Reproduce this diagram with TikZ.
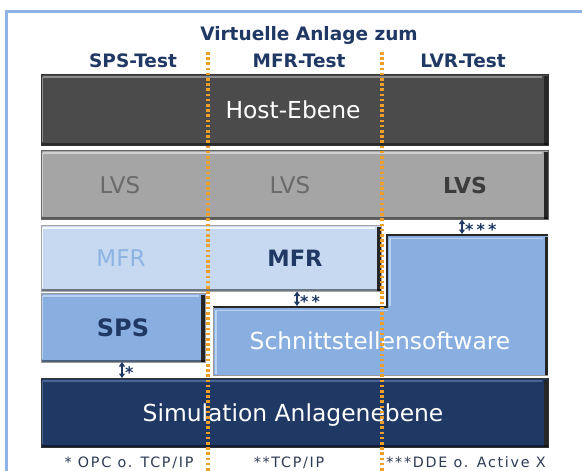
\documentclass[tikz,border=0pt]{standalone}
\usepackage{fontspec}
\setmainfont{DejaVu Sans}
\usetikzlibrary{arrows.meta}
\definecolor{navy}{HTML}{1F3864}
\definecolor{hostc}{HTML}{4B4B4B}
\definecolor{hosthi}{HTML}{8C8C8C}
\definecolor{lvsc}{HTML}{A5A5A5}
\definecolor{lvshi}{HTML}{CFCFCF}
\definecolor{lvstxt}{HTML}{6A6A6A}
\definecolor{lvsbold}{HTML}{3C3C3C}
\definecolor{mfrc}{HTML}{C6D9F1}
\definecolor{mfrhi}{HTML}{F2F7FD}
\definecolor{mfrtxt}{HTML}{8DB3E2}
\definecolor{bluec}{HTML}{88AFE0}
\definecolor{bluehi}{HTML}{B9D2F1}
\definecolor{simc}{HTML}{1F3864}
\definecolor{simhi}{HTML}{4A6594}
\definecolor{framec}{HTML}{8FB4E3}
\definecolor{dotc}{HTML}{F0A02A}
\definecolor{foottxt}{HTML}{2E3B55}
\tikzset{
  barbox/.style n args={3}{draw=#2, line width=0.8pt, fill=#1, inner sep=0pt, outer sep=0pt, anchor=north west,
    path picture={
      \draw[#3, line width=1.6pt] ([xshift=2pt,yshift=-3pt]path picture bounding box.north west) -- ([xshift=-6pt,yshift=-3pt]path picture bounding box.north east);
      \draw[#3, line width=0.8pt] ([xshift=1.5pt,yshift=-3pt]path picture bounding box.north west) -- ([xshift=1.5pt,yshift=3pt]path picture bounding box.south west);
      \fill[black!85] ([xshift=-4pt,yshift=-2pt]path picture bounding box.north east) rectangle (path picture bounding box.south east);
      \fill[black, opacity=.45] ([yshift=2.5pt]path picture bounding box.south west) rectangle (path picture bounding box.south east);
    }},
  lbl/.style={inner sep=0pt, outer sep=0pt, anchor=base},
  bigtxt/.style={lbl, font=\fontsize{23.4}{26}\selectfont},
  ttl/.style={lbl, text=navy, font=\bfseries\fontsize{18.5}{21}\selectfont},
  foot/.style={lbl, text=foottxt, font=\addfontfeatures{LetterSpace=12}\fontsize{14.3}{16}\selectfont},
  stars/.style={inner sep=0pt, outer sep=0pt, anchor=west, text=navy, font=\bfseries\addfontfeatures{LetterSpace=20}\fontsize{16}{18}\selectfont},
  dblarrow/.style={navy, line width=1.6pt, {Triangle[width=6pt,length=4.5pt]}-{Triangle[width=6pt,length=4.5pt]}},
  dotline/.style={dotc, line width=3.2pt, dash pattern=on 2.6pt off 2.6pt},
}
\begin{document}
\begin{tikzpicture}[x=1pt,y=-1pt]
\useasboundingbox (0,0) rectangle (582,471);
\fill[white] (0,0) rectangle (582,471);
% frame
\draw[framec, line width=3pt] (6,471) -- (6,11) -- (582,11);
% titles
\node[ttl] (title) at (309,40) {Virtuelle Anlage zum};
\node[ttl] (tsps) at (133,67) {SPS-Test};
\node[ttl] (tmfr) at (299,67) {MFR-Test};
\node[ttl] (tlvr) at (463,67) {LVR-Test};
% bars
\node[barbox={hostc}{black!80}{hosthi}, minimum width=507pt, minimum height=71pt] (host) at (41,74) {};
\node[barbox={lvsc}{black!60}{lvshi}, minimum width=507pt, minimum height=69pt] (lvs) at (41,150) {};
\node[barbox={mfrc}{black!35}{mfrhi}, minimum width=340pt, minimum height=66pt] (mfr) at (41,225) {};
\node[barbox={bluec}{black!40}{bluehi}, minimum width=164pt, minimum height=69pt] (sps) at (41,293) {};
% Schnittstellensoftware (L-shape)
\fill[bluec] (387,235) -- (548,235) -- (548,375) -- (213,375) -- (213,307) -- (387,307) -- cycle;
\draw[bluehi, line width=1.4pt] (216,374) -- (216,310.5) -- (388,310.5);
\draw[bluehi, line width=1.4pt] (390,306) -- (390,238.5) -- (543,238.5);
\fill[black!85] (544.5,237) rectangle (548,375);
\draw[black!85, line width=2.2pt] (213,307) -- (387,307) -- (387,235) -- (548,235);
\draw[black!40, line width=0.8pt] (213,307) -- (213,375) -- (548,375);
\coordinate (schnc) at (380,349.5);
% Simulation
\node[barbox={simc}{black!80}{simhi}, minimum width=507pt, minimum height=69pt] (sim) at (41,378) {};
% texts
\node[bigtxt, text=white] (thost) at (293,118.5) {Host-Ebene};
\node[bigtxt, text=lvstxt, font=\fontsize{23}{26}\selectfont] (lvs1) at (120,193) {LVS};
\node[bigtxt, text=lvstxt, font=\fontsize{23}{26}\selectfont] (lvs2) at (290,193) {LVS};
\node[lbl, text=lvsbold, font=\bfseries\fontsize{22}{26}\selectfont] (lvs3) at (465,193) {LVS};
\node[bigtxt, text=mfrtxt, font=\fontsize{23}{26}\selectfont] (mfr1) at (121,266.5) {MFR};
\node[lbl, text=navy, font=\bfseries\fontsize{22.5}{26}\selectfont] (mfr2) at (295,266.5) {MFR};
\node[lbl, text=navy, font=\bfseries\fontsize{24}{26}\selectfont] (tsps2) at (123,336) {SPS};
\node[bigtxt, text=white] (tschn) at (schnc) {Schnittstellensoftware};
\node[bigtxt, text=white] (tsim) at (293,421) {Simulation Anlagenebene};
% interface arrows
\coordinate (xa1) at (122,0);
\coordinate (a2t) at (297,291.5);
\coordinate (a2b) at (297,306);
\coordinate (a3t) at (462,219.5);
\coordinate (a3b) at (462,234);
\draw[dblarrow] (sps.south -| xa1) -- (sim.north -| xa1);
\draw[dblarrow] (a2t) -- (a2b);
\draw[dblarrow] (a3t) -- (a3b);
\node[stars] (s1) at (125,373) {*};
\node[stars] (s2) at (300,302) {**};
\node[stars] (s3) at (465,230) {***};
% footnotes
\node[foot] (f1) at (129,467) {* OPC o. TCP/IP};
\node[foot] (f2) at (289,467) {**TCP/IP};
\node[foot] (f3) at (466,467) {***DDE o. Active X};
% dotted separators
\coordinate (d1t) at (208,52);
\coordinate (d1b) at (208,471);
\coordinate (d2t) at (382,52);
\coordinate (d2b) at (382,471);
\draw[dotline] (d1t) -- (d1b);
\draw[dotline] (d2t) -- (d2b);
\end{tikzpicture}
\end{document}
